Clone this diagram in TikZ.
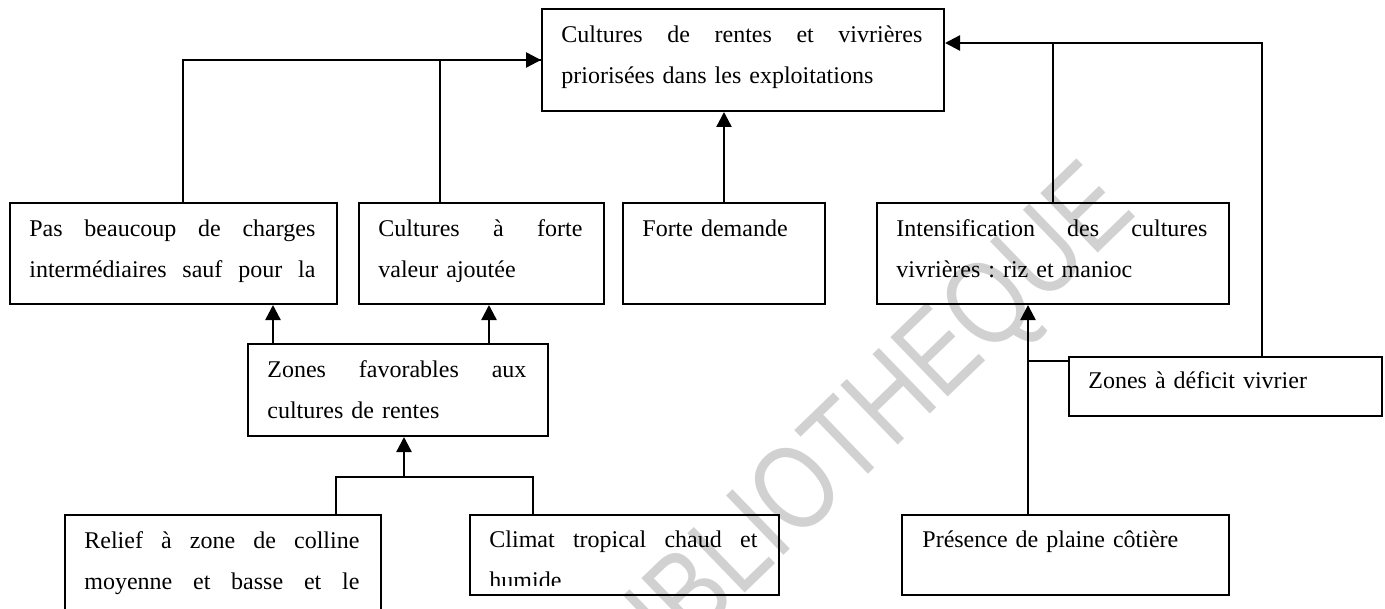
\documentclass[tikz,border=0pt]{standalone}
\usepackage{fontspec}
\setmainfont{Liberation Serif}
\newfontfamily\filigrane{Liberation Sans}
\usepackage{tikz}
\usetikzlibrary{calc,arrows.meta}
\usepackage{xcolor}
\frenchspacing

\newcommand{\jline}[1]{\hbox to\hsize{\spaceskip=0.25em plus 1fil#1}}

\tikzset{
    cadre/.style={draw, line width=1pt, inner sep=0pt, anchor=north west},
    texte/.style={anchor=north west, inner sep=0pt, align=left, font=\fontsize{12}{20.5}\selectfont, execute at begin node=\strut},
    lien/.style={line width=0.7pt},
    lienfort/.style={line width=1.2pt},
    fleche/.style={-{Triangle[length=7.5pt,width=7.5pt]}}
}

\begin{document}
\begin{tikzpicture}[x=0.5pt,y=-0.5pt]
    \useasboundingbox (0,0) rectangle (1385,609);
    \clip (0,0) rectangle (1385,609);

    \node[rotate=44, text=black!18, font=\filigrane\fontsize{60}{60}\selectfont] (filigrane) at (862,438) {\scalebox{0.8}[1]{BIBLIOTHEQUE}};

    % boites
    \node[cadre, minimum width=201pt, minimum height=51pt] (top) at (541,8) {};
    \node[cadre, minimum width=163.5pt, minimum height=50.5pt] (pas) at (9,202) {};
    \node[cadre, minimum width=122.5pt, minimum height=50.5pt] (forte) at (358,202) {};
    \node[cadre, minimum width=101pt, minimum height=50.5pt] (demande) at (622,202) {};
    \node[cadre, minimum width=176pt, minimum height=50.5pt] (intens) at (876,202) {};
    \node[cadre, minimum width=150pt, minimum height=46pt] (zones) at (247,343) {};
    \node[cadre, minimum width=156.5pt, minimum height=29.5pt] (deficit) at (1068,356) {};
    \node[cadre, minimum width=158pt, minimum height=70pt] (relief) at (64,514) {};
    \node[cadre, minimum width=154.5pt, minimum height=40pt] (climat) at (469,514) {};
    \node[cadre, minimum width=163.5pt, minimum height=40pt] (plaine) at (901,514) {};

    % textes
    \node[texte, text width=180.5pt] (topT) at ($(top.north west)+(20,5)$)
        {\jline{Cultures de rentes et vivrières}\\priorisées dans les exploitations};
    \node[texte, text width=143pt] (pasT) at ($(pas.north west)+(20,5)$)
        {\jline{Pas beaucoup de charges}\\\jline{intermédiaires sauf pour la}};
    \node[texte, text width=102pt] (forteT) at ($(forte.north west)+(20,5)$)
        {\jline{Cultures à forte}\\valeur ajoutée};
    \node[texte, text width=80.5pt] (demandeT) at ($(demande.north west)+(20,5)$)
        {Forte demande};
    \node[texte, text width=155.5pt] (intensT) at ($(intens.north west)+(20,5)$)
        {\jline{Intensification des cultures}\\vivrières : riz et manioc};
    \node[texte, text width=129.5pt] (zonesT) at ($(zones.north west)+(20,5)$)
        {\jline{Zones favorables aux}\\cultures de rentes};
    \node[texte, text width=136pt] (deficitT) at ($(deficit.north west)+(20,3)$)
        {Zones à déficit vivrier};
    \node[texte, text width=137.5pt] (reliefT) at ($(relief.north west)+(20,5)$)
        {\jline{Relief à zone de colline}\\\jline{moyenne et basse et le}};
    \begin{scope}
        \clip (climat.north west) rectangle ($(climat.south east)+(0,-11)$);
        \node[texte, text width=134pt] (climatT) at ($(climat.north west)+(20,4)$)
            {\jline{Climat tropical chaud et}\\humide};
    \end{scope}
    \node[texte, text width=143pt] (plaineT) at ($(plaine.north west)+(21,4)$)
        {Présence de plaine côtière};

    % liens
    \coordinate (rj) at ($(top.north east)+(0,35)$);
    \coordinate (ij) at ($(intens.south west)+(152,56)$);
    \coordinate (zj) at ($(zones.south west)+(157,40)$);
    \coordinate (za) at ($(zones.north west)+(26,0)$);
    \coordinate (zb) at ($(zones.north west)+(242,0)$);

    \draw[lien] ($(pas.north west)+(174,0)$) |- (top.west);
    \draw[lienfort,fleche] ($(forte.north west)+(82,0)$) |- (top.west);
    \draw[lienfort,fleche] (demande.north) -- (demande.north |- top.south);
    \draw[lien] (intens.north) -- (intens.north |- rj);
    \draw[lienfort,fleche] ($(deficit.north west)+(194,0)$) |- (rj);
    \draw[lien] (ij |- plaine.north) -- (ij);
    \draw[lienfort,fleche] (deficit.west |- ij) -- (ij) -- (ij |- intens.south);
    \draw[lienfort,fleche] (za) -- (za |- pas.south);
    \draw[lienfort,fleche] (zb) -- (zb |- forte.south);
    \draw[lienfort] ($(relief.north west)+(272,0)$) |- (zj);
    \draw[lien] ($(climat.north west)+(64,0)$) |- (zj);
    \draw[lienfort,fleche] (zj) -- (zj |- zones.south);
\end{tikzpicture}
\end{document}
